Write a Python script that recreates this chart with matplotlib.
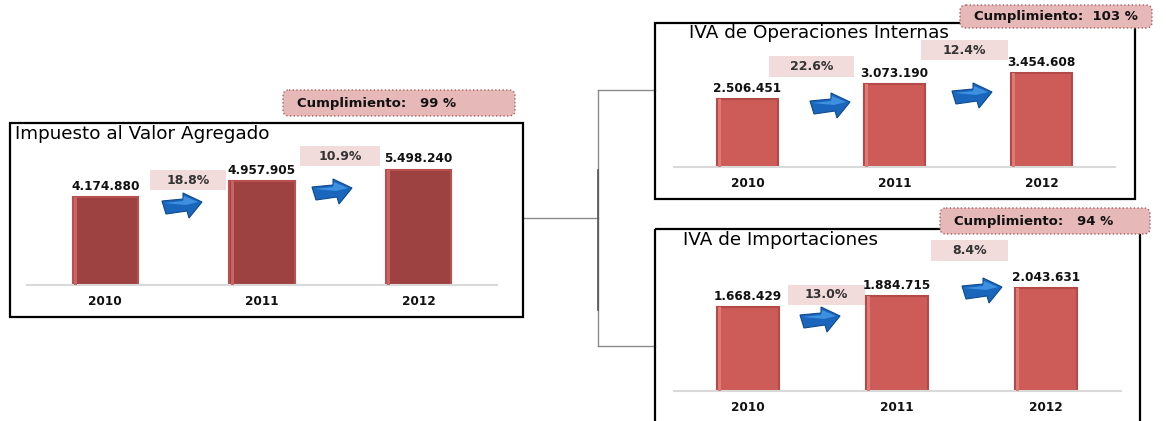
import matplotlib
matplotlib.use("Agg")
import matplotlib.pyplot as plt
from matplotlib.patches import Rectangle, FancyBboxPatch, Polygon

# ---------------- data ----------------
years = ["2010", "2011", "2012"]

iva_total = [4174880, 4957905, 5498240]
iva_internas = [2506451, 3073190, 3454608]
iva_importaciones = [1668429, 1884715, 2043631]

pct_total = ["18.8%", "10.9%"]
pct_internas = ["22.6%", "12.4%"]
pct_importaciones = ["13.0%", "8.4%"]

titles = ["Impuesto al Valor Agregado", "IVA de Operaciones Internas", "IVA de Importaciones"]
cumplimiento = ["Cumplimiento:   99 %", "Cumplimiento:  103 %", "Cumplimiento:   94 %"]

# ---------------- layout (pixel coords) ----------------
W, H = 1166, 421
panels = [
    dict(values=iva_total, pcts=pct_total, title=titles[0], cum=cumplimiento[0],
         box=(10, 123, 523, 317), title_xy=(15, 134),
         ax_x=(27, 497), ax_y=(140, 285), px_per_m=21.0,
         cum_box=(283, 90, 515, 116),
         pct_boxes=[(150, 170, 226, 190), (300, 146, 380, 166)],
         arrows=[(162, 218), (312, 204)],
         bar_fc="#9e4141", bar_ec="#b85050", hi="#c86464"),
    dict(values=iva_internas, pcts=pct_internas, title=titles[1], cum=cumplimiento[1],
         box=(655, 23, 1135, 199), title_xy=(689, 33),
         ax_x=(674, 1115), ax_y=(40, 167), px_per_m=27.1,
         cum_box=(960, 5, 1152, 28),
         pct_boxes=[(769, 56, 854, 77), (921, 40, 1008, 60)],
         arrows=[(810, 118), (952, 108)],
         bar_fc="#cd5b57", bar_ec="#b44a47", hi="#e07a76"),
    dict(values=iva_importaciones, pcts=pct_importaciones, title=titles[2], cum=cumplimiento[2],
         box=(655, 229, 1140, 445), title_xy=(683, 240),
         ax_x=(673.5, 1120.5), ax_y=(250, 391), px_per_m=50.4,
         cum_box=(940, 208, 1150, 234),
         pct_boxes=[(788, 285, 865, 305), (931, 240, 1008, 261)],
         arrows=[(800, 332), (962, 303)],
         bar_fc="#cd5b57", bar_ec="#b44a47", hi="#e07a76"),
]

# arrow shape, relative px (x right, y up) from bottom-left
arrow_shape = [(0, 17), (21, 19), (21, 25), (40, 16), (27, 0), (25, 7), (4, 4)]
arrow_hi = [(2, 15), (21, 17), (22, 22), (36, 16), (24, 13)]

fig = plt.figure(figsize=(W / 100, H / 100), dpi=100)
bg = fig.add_axes([0, 0, 1, 1])
bg.set_xlim(0, W)
bg.set_ylim(H, 0)
bg.axis("off")


def fmt(v):
    return f"{v:,}".replace(",", ".")


# connector lines
line_kw = dict(color="#8c8c8c", lw=1.0, zorder=1)
bg.plot([523, 598], [218, 218], **line_kw)
bg.plot([598, 598], [90, 346], **line_kw)
bg.plot([598, 655], [90, 90], **line_kw)
bg.plot([598, 655], [346, 346], **line_kw)
bg.plot([598, 598], [170, 310], color="#555555", lw=1.2, zorder=1)

for p in panels:
    x0, y0, x1, y1 = p["box"]
    bg.add_patch(Rectangle((x0, y0), x1 - x0, y1 - y0, fill=False, ec="black", lw=1.6,
                           zorder=2, clip_on=False))
    bg.text(p["title_xy"][0], p["title_xy"][1], p["title"], fontsize=13.2, ha="left",
            va="center", color="#000000", zorder=5)

    # cumplimiento box
    cx0, cy0, cx1, cy1 = p["cum_box"]
    bg.add_patch(FancyBboxPatch((cx0, cy0), cx1 - cx0, cy1 - cy0,
                                boxstyle="round,pad=0,rounding_size=6",
                                fc="#e6b8b7", ec="#a86060", lw=1.0, ls=":", zorder=4))
    bg.text(cx0 + 14, (cy0 + cy1) / 2, p["cum"], fontsize=9.5, fontweight="bold",
            ha="left", va="center", color="#111111", zorder=5)

    # percentage boxes
    for (bx0, by0, bx1, by1), txt in zip(p["pct_boxes"], p["pcts"]):
        bg.add_patch(Rectangle((bx0, by0), bx1 - bx0, by1 - by0, fc="#f2dcdb", ec="none",
                               zorder=3))
        bg.text((bx0 + bx1) / 2, (by0 + by1) / 2, txt, fontsize=9, fontweight="bold",
                ha="center", va="center", color="#333333", zorder=5)

    # arrows
    for ax0, ay0 in p["arrows"]:
        pts = [(ax0 + dx, ay0 - dy) for dx, dy in arrow_shape]
        bg.add_patch(Polygon(pts, closed=True, fc="#1a66bd", ec="#0f4a8e", lw=0.8, zorder=4))
        hpts = [(ax0 + dx, ay0 - dy) for dx, dy in arrow_hi]
        bg.add_patch(Polygon(hpts, closed=True, fc="#3d8fe0", ec="none", lw=0, zorder=4.5))

    # bar axes
    axx0, axx1 = p["ax_x"]
    axy0, axy1 = p["ax_y"]
    ax = fig.add_axes([axx0 / W, 1 - axy1 / H, (axx1 - axx0) / W, (axy1 - axy0) / H])
    ax.patch.set_alpha(0)
    ymax = (axy1 - axy0) / p["px_per_m"] * 1e6
    ax.set_ylim(0, ymax)
    ax.set_xlim(-0.5, 2.5)
    xs = list(range(len(years)))
    ax.bar(xs, p["values"], width=0.415, color=p["bar_fc"], edgecolor=p["bar_ec"],
           linewidth=1.5, zorder=2)
    # light left highlight of each bar
    ax.bar([x - 0.19 for x in xs], p["values"], width=0.02, color=p["hi"],
           edgecolor="none", zorder=3)
    for i, v in zip(xs, p["values"]):
        ax.annotate(fmt(v), (i, v), xytext=(0, 3), textcoords="offset points",
                    ha="center", va="bottom", fontsize=8.7, fontweight="bold",
                    color="#111111")
    for s in ["top", "right", "left"]:
        ax.spines[s].set_visible(False)
    ax.spines["bottom"].set_color("#d9d9d9")
    ax.spines["bottom"].set_linewidth(1.5)
    ax.set_yticks([])
    ax.set_xticks(xs)
    ax.set_xticklabels(years, fontsize=8.7, fontweight="bold", color="#111111")
    ax.tick_params(axis="x", length=0, pad=7.5)

fig.savefig("out.png", dpi=100)
